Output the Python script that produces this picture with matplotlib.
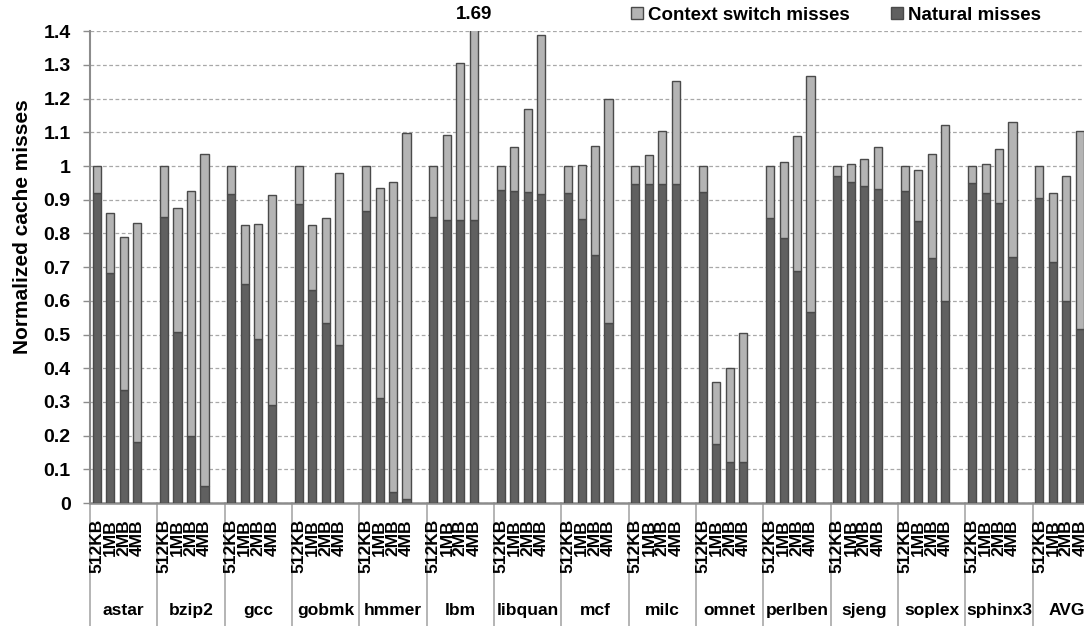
import numpy as np
import matplotlib
matplotlib.use("Agg")
import matplotlib.pyplot as plt
import matplotlib.transforms as mtransforms
from matplotlib.patches import Patch

plt.rcParams['font.family'] = ['Liberation Sans', 'DejaVu Sans']
plt.rcParams['font.weight'] = 'bold'

# benchmarks and cache sizes
benchmarks = ['astar', 'bzip2', 'gcc', 'gobmk', 'hmmer', 'lbm', 'libquan', 'mcf',
              'milc', 'omnet', 'perlben', 'sjeng', 'soplex', 'sphinx3', 'AVG']
sizes = ['512KB', '1MB', '2MB', '4MB']

# total normalized misses (bar top), one row per benchmark
total = np.array([
    [1.0, 0.860, 0.789, 0.832],
    [1.0, 0.876, 0.926, 1.037],
    [1.0, 0.824, 0.828, 0.913],
    [1.0, 0.826, 0.845, 0.980],
    [1.0, 0.936, 0.952, 1.097],
    [1.0, 1.092, 1.305, 1.690],
    [1.0, 1.056, 1.169, 1.389],
    [1.0, 1.004, 1.061, 1.199],
    [1.0, 1.033, 1.105, 1.252],
    [1.0, 0.360, 0.400, 0.506],
    [1.0, 1.013, 1.088, 1.267],
    [1.0, 1.005, 1.021, 1.058],
    [1.0, 0.989, 1.035, 1.122],
    [1.0, 1.007, 1.051, 1.131],
    [1.0, 0.920, 0.970, 1.105],
])

# natural misses (dark part)
natural = np.array([
    [0.919, 0.682, 0.335, 0.182],
    [0.848, 0.509, 0.200, 0.051],
    [0.916, 0.649, 0.486, 0.291],
    [0.887, 0.632, 0.533, 0.469],
    [0.867, 0.313, 0.034, 0.012],
    [0.848, 0.841, 0.841, 0.841],
    [0.929, 0.926, 0.922, 0.917],
    [0.920, 0.844, 0.735, 0.533],
    [0.948, 0.948, 0.948, 0.948],
    [0.924, 0.175, 0.123, 0.123],
    [0.847, 0.787, 0.690, 0.568],
    [0.971, 0.952, 0.941, 0.931],
    [0.925, 0.836, 0.726, 0.600],
    [0.951, 0.920, 0.891, 0.729],
    [0.906, 0.714, 0.600, 0.515],
])
context = total - natural

dark = '#606060'
light = '#b4b4b4'
edge = '#4a4a4a'
axis_gray = '#8c8c8c'

fig = plt.figure(figsize=(10.84, 6.26), dpi=100)
ax = fig.add_axes([90/1084, 123/626, 994/1084, 471.7/626])

ng, ns = natural.shape
x = (np.arange(ng)[:, None] * (ns + 1) + np.arange(ns)[None, :] + 0.5).ravel()

ax.bar(x, natural.ravel(), width=0.6, color=dark, edgecolor=edge, linewidth=1, zorder=3)
ax.bar(x, context.ravel(), width=0.6, bottom=natural.ravel(), color=light,
       edgecolor=edge, linewidth=1, zorder=3)

ax.set_xlim(0, 73.81)
ax.set_ylim(0, 1.4)
ax.set_yticks(np.arange(0, 1.41, 0.1))
ax.set_yticklabels(['0'] + ['%.1f' % v for v in np.arange(0.1, 1.0, 0.1)] + ['1']
                   + ['%.1f' % v for v in np.arange(1.1, 1.41, 0.1)], fontsize=14)
ax.tick_params(axis='y', length=5, color=axis_gray, width=1, pad=9)
ax.set_xticks([])
ax.yaxis.grid(True, linestyle=(0, (3, 2)), color='#a8a8a8', linewidth=0.9, zorder=0)
ax.set_axisbelow(True)

for s in ['top', 'right']:
    ax.spines[s].set_visible(False)
ax.spines['left'].set_color(axis_gray)
ax.spines['left'].set_linewidth(1.5)
ax.spines['bottom'].set_color(axis_gray)
ax.spines['bottom'].set_linewidth(1.8)

ax.set_ylabel('Normalized cache misses', fontsize=15, fontweight='bold')
ax.yaxis.set_label_coords(-0.058, 0.585)

trans = mtransforms.blended_transform_factory(ax.transData, ax.transAxes)
for xi, lab in zip(x, sizes * ng):
    ax.text(xi, -0.034, lab, rotation=90, ha='center', va='top', fontsize=12.5,
            transform=trans)
for g, name in enumerate(benchmarks):
    ax.text(g * (ns + 1) + 2.5, -0.227, name, ha='center', va='center',
            fontsize=12.5, transform=trans)
    ax.plot([g * (ns + 1)] * 2, [0, -0.3], color='#a8a8a8', linewidth=1.2,
            transform=trans, clip_on=False)

# label for the clipped lbm bar
i_lbm = benchmarks.index('lbm') * ns + 3
ax.text(x[i_lbm], 1.018, '%.2f' % total.ravel()[i_lbm], ha='center', va='bottom',
        fontsize=13.5, transform=trans)

handles = [Patch(facecolor=light, edgecolor=edge, label='Context switch misses'),
           Patch(facecolor=dark, edgecolor=edge, label='Natural misses')]
fig.legend(handles=handles, loc='center left', bbox_to_anchor=(631/1084, 1 - 15/626),
           ncol=2, frameon=False, fontsize=13.5, handlelength=0.65, handleheight=0.65,
           handletextpad=0.25, columnspacing=2.2, borderaxespad=0, borderpad=0)

fig.savefig('out.png', dpi=100)
